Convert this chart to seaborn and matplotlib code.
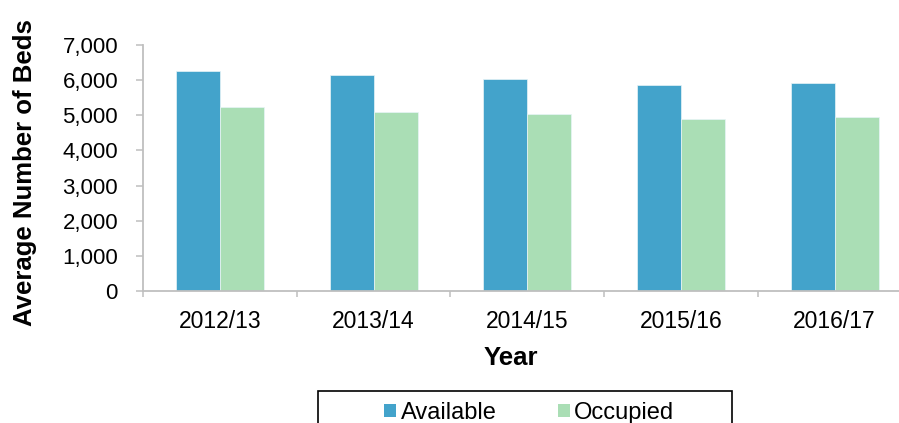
import matplotlib
matplotlib.use("Agg")
import matplotlib.pyplot as plt
from matplotlib.patches import Rectangle, Patch
from matplotlib.ticker import FuncFormatter, FixedLocator
import seaborn as sns
import pandas as pd

# chart values
years = ["2012/13", "2013/14", "2014/15", "2015/16", "2016/17"]
available = [6256, 6142, 6028, 5866, 5914]
occupied = [5248, 5085, 5028, 4906, 4963]
series_names = ["Available", "Occupied"]
colours = ["#43A3CB", "#AADEB5"]

df = pd.DataFrame({
    "Year": years * 2,
    "Series": [series_names[0]] * len(years) + [series_names[1]] * len(years),
    "Beds": available + occupied,
})

sns.set_style("white")
plt.rcParams["font.family"] = ["Liberation Sans", "DejaVu Sans"]
plt.rcParams["text.color"] = "black"
plt.rcParams["axes.labelcolor"] = "black"

fig = plt.figure(figsize=(8.99, 4.23), dpi=100)
W, H = 899, 423
ax = fig.add_axes([143 / W, (H - 291) / H, (911.5 - 143) / W, 246 / H])

sns.barplot(data=df, x="Year", y="Beds", hue="Series", palette=colours,
            saturation=1, width=0.573, gap=0, edgecolor="#e8f4f8",
            linewidth=0.5, legend=False, ax=ax)

ax.set_ylim(0, 7000)
ax.set_xlim(-0.5, len(years) - 0.5)
ax.set_yticks(range(0, 7001, 1000))
ax.yaxis.set_major_formatter(FuncFormatter(lambda v, p: f"{int(v):,}"))

grey = "#BFBFBF"
for s in ["top", "right"]:
    ax.spines[s].set_visible(False)
for s in ["left", "bottom"]:
    ax.spines[s].set_color(grey)
    ax.spines[s].set_linewidth(1.3)

ax.tick_params(axis="y", length=5, width=1.1, color=grey, pad=13,
               labelsize=16, labelcolor="black", left=True)
ax.tick_params(axis="x", which="major", length=0, pad=13.5, labelsize=16.5,
               labelcolor="black")
ax.xaxis.set_minor_locator(FixedLocator([i - 0.5 for i in range(len(years) + 1)]))
ax.tick_params(axis="x", which="minor", length=4, width=1.1, color=grey,
               bottom=True)

ax.set_xlabel("Year", fontsize=18.5, fontweight="bold")
ax.set_ylabel("Average Number of Beds", fontsize=18.5, fontweight="bold")
ax.xaxis.set_label_coords(0.478, -0.222)
ax.yaxis.set_label_coords(-0.138, 0.48)

# legend box runs off the bottom of the figure, like the reference
fig.patches.append(Rectangle((318 / W, -0.05), 414 / W, 0.05 + (H - 391) / H,
                             transform=fig.transFigure, fill=False,
                             edgecolor="black", linewidth=1.2))
handles = [Patch(facecolor=c, edgecolor="none") for c in colours]
fig.legend(handles, series_names, loc="center left",
           bbox_to_anchor=(384 / W, (H - 413) / H), ncol=2, frameon=False,
           fontsize=17, handlelength=0.5, handleheight=0.5, handletextpad=0.2,
           columnspacing=2.6, borderpad=0, borderaxespad=0)

fig.savefig("out.png", dpi=100)
